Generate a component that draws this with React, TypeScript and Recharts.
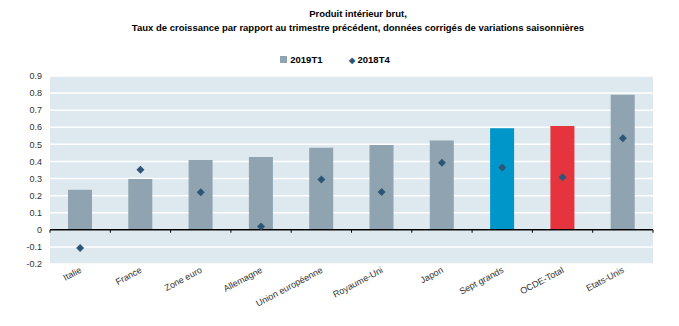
import { Bar, CartesianGrid, Cell, ComposedChart, ReferenceLine, Scatter, XAxis, YAxis } from "recharts";

const CATEGORIES = [
  "Italie",
  "France",
  "Zone euro",
  "Allemagne",
  "Union européenne",
  "Royaume-Uni",
  "Japon",
  "Sept grands",
  "OCDE-Total",
  "Etats-Unis",
];
const T1_2019 = [0.234, 0.298, 0.408, 0.426, 0.48, 0.497, 0.523, 0.594, 0.607, 0.79];
const T4_2018 = [-0.107, 0.351, 0.22, 0.019, 0.294, 0.222, 0.392, 0.364, 0.308, 0.536];
const Y_TICKS = [-0.2, -0.1, 0, 0.1, 0.2, 0.3, 0.4, 0.5, 0.6, 0.7, 0.8, 0.9];

const GREY = "#8fa4b0";
const HIGHLIGHT: Record<string, string> = { "Sept grands": "#0096c9", "OCDE-Total": "#e6343f" };
const DIAMOND = "#2d5676";
const FONT = "'Liberation Sans', Arial, sans-serif";

const data = CATEGORIES.map((name, i) => ({ name, t1: T1_2019[i], t4: T4_2018[i] }));

function Diamond(props: any) {
  const { cx, cy } = props;
  if (cx == null || cy == null) return null;
  const r = 4;
  return <polygon points={`${cx},${cy - r} ${cx + r},${cy} ${cx},${cy + r} ${cx - r},${cy}`} fill={DIAMOND} />;
}

function XTick(props: any) {
  const { x, y, payload } = props;
  return (
    <text
      x={x + 2}
      y={y}
      transform={`rotate(-28 ${x + 2} ${y})`}
      textAnchor="end"
      fontSize={9}
      fill="#333"
      fontFamily={FONT}
    >
      {payload.value}
    </text>
  );
}

export default function App() {
  return (
    <div style={{ position: "absolute", left: 0, top: 0, width: 679, height: 326, background: "#fff", fontFamily: FONT }}>
      <div style={{ position: "absolute", top: 7, left: 0, width: 716, textAlign: "center", fontWeight: "bold", fontSize: 9.5, lineHeight: "14px", color: "#000" }}>
        Produit intérieur brut,
        <br />
        Taux de croissance par rapport au trimestre précédent, données corrigés de variations saisonnières
      </div>
      <div style={{ position: "absolute", top: 54, left: 0, width: 670, textAlign: "center", fontWeight: "bold", fontSize: 9.5, color: "#000" }}>
        <span style={{ display: "inline-block", width: 7, height: 7, background: GREY, marginRight: 3 }} />
        2019T1
        <span style={{ display: "inline-block", width: 26 }} />
        <span style={{ color: DIAMOND, fontSize: 8, marginRight: 3 }}>◆</span>
        2018T4
      </div>
      <ComposedChart
        width={679}
        height={326}
        data={data}
        margin={{ top: 76, right: 26, bottom: 0, left: 0 }}
        barCategoryGap={18}
      >
        <CartesianGrid fill="#dde8ef" stroke="#ffffff" strokeWidth={1.5} vertical={false} />
        <XAxis dataKey="name" interval={0} axisLine={false} tickLine={false} tick={<XTick />} height={62} />
        <YAxis
          domain={[-0.2, 0.9]}
          ticks={Y_TICKS}
          interval={0}
          width={50}
          axisLine={false}
          tickLine={false}
          tick={{ fontSize: 9, fill: "#333", fontFamily: FONT }}
        />
        <Bar dataKey="t1" isAnimationActive={false}>
          {data.map((d) => (
            <Cell key={d.name} fill={HIGHLIGHT[d.name] ?? GREY} />
          ))}
        </Bar>
        <ReferenceLine y={0} stroke="#000" strokeWidth={1.5} />
        {CATEGORIES.map((c) => (
          <ReferenceLine
            key={c}
            position="start"
            segment={[{ x: c, y: 0 }, { x: c, y: -0.017 }]}
            stroke="#000"
          />
        ))}
        <ReferenceLine
          position="end"
          segment={[{ x: CATEGORIES[CATEGORIES.length - 1], y: 0 }, { x: CATEGORIES[CATEGORIES.length - 1], y: -0.017 }]}
          stroke="#000"
        />
        <Scatter dataKey="t4" shape={<Diamond />} isAnimationActive={false} />
      </ComposedChart>
    </div>
  );
}
